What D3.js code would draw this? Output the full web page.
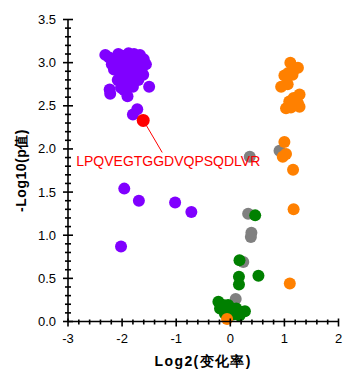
<!DOCTYPE html>
<html><head><meta charset="utf-8">
<script src="https://cdn.jsdelivr.net/npm/d3@7"></script>
<style>
html,body{margin:0;padding:0;background:#fff;}
svg{display:block;font-family:"Liberation Sans",Arial,sans-serif;}
</style></head>
<body>
<svg id="c" width="358" height="382"></svg>
<script>
// Data: [log2 fold change, -log10 p]
const grayPts = [[0.91,1.98],[0.36,1.91],[0.33,1.25],[0.39,1.03],[0.38,0.98],[0.24,0.69],[0.10,0.26]];
const greenPts = [[0.46,1.23],[0.17,0.71],[0.52,0.53],[0.16,0.52],[0.16,0.43],
  [-0.22,0.23],[-0.13,0.19],[-0.04,0.19],[0.11,0.15],[0.27,0.12],[-0.19,0.15],
  [-0.10,0.09],[0.05,0.08],[0.17,0.07],[0.00,0.16],[0.20,0.11]];
const purplePts = [[-2.31,3.09],[-2.07,3.10],[-1.88,3.11],[-1.67,3.09],[-1.97,3.05],[-1.76,3.07],
  [-2.13,3.03],[-2.03,3.02],[-1.82,3.00],[-1.56,2.98],[-2.19,2.98],[-1.70,2.96],[-1.91,2.92],
  [-1.76,2.88],[-1.61,2.86],[-1.97,2.84],[-1.82,2.84],[-1.85,2.78],[-1.91,2.76],[-1.50,2.72],
  [-2.23,2.69],[-2.02,2.71],[-2.22,2.64],[-1.90,2.61],[-1.72,2.46],[-1.80,2.40],
  [-2.15,2.92],[-2.06,2.90],[-1.95,2.99],[-1.86,2.93],[-1.72,3.02],[-1.64,2.93],
  [-2.08,2.80],[-1.96,2.68],[-1.80,2.72],[-1.70,2.80],[-2.24,3.06],[-1.60,3.04],
  [-1.88,3.05],[-2.00,3.08],[-1.78,3.10],[-1.68,2.86],[-1.88,2.85],[-2.10,2.97],
  [-1.96,1.54],[-1.69,1.40],[-1.02,1.38],[-0.72,1.27],[-2.02,0.87]];
const orangePts = [[1.11,3.00],[1.25,2.94],[1.00,2.85],[1.15,2.86],[0.94,2.72],[1.06,2.75],
  [1.28,2.63],[1.17,2.59],[1.25,2.53],[1.03,2.47],[1.28,2.49],[1.16,2.50],[1.09,2.55],
  [1.18,2.92],[1.07,2.88],[1.22,2.58],[1.12,2.48],
  [1.00,2.08],[0.97,1.91],[1.03,1.94],[1.16,1.76],[1.17,1.30],[1.10,0.44],[-0.06,0.03]];
const highlightPt = [-1.61,2.33];
const highlightLabel = "LPQVEGTGGDVQPSQDLVR";
const xTicks = [-3,-2,-1,0,1,2];
const yTicks = [0.0,0.5,1.0,1.5,2.0,2.5,3.0,3.5];
const xTitle = "Log2(变化率)";
const yTitle = "-Log10(p值)";

const svg = d3.select("#c");
const x = d3.scaleLinear().domain([-3,2]).range([68,338.5]);
const y = d3.scaleLinear().domain([0,3.5]).range([321.5,19.5]);

function dots(data, color){
  svg.append("g").selectAll("circle").data(data).join("circle")
    .attr("cx", d=>x(d[0])).attr("cy", d=>y(d[1])).attr("r", 6).attr("fill", color);
}
dots(grayPts, "#808080");
dots(greenPts, "#008000");
dots(purplePts, "#8000ff");
dots(orangePts, "#ff8000");

// highlight
const hx = x(highlightPt[0]), hy = y(highlightPt[1]);
svg.append("line").attr("x1", hx+2).attr("y1", hy+3).attr("x2", hx+19).attr("y2", hy+32)
  .attr("stroke", "#ff0000").attr("stroke-width", 1);
svg.append("circle").attr("cx", hx).attr("cy", hy).attr("r", 6.5).attr("fill", "#ff0000");
svg.append("text").attr("x", hx-67).attr("y", hy+46).attr("fill", "#ff0000")
  .attr("font-size", 14).text(highlightLabel);

// axes
const ax = svg.append("g").attr("stroke", "#000").attr("stroke-width", 1.6);
ax.append("line").attr("x1", x(-3)).attr("x2", x(2)).attr("y1", y(0)).attr("y2", y(0));
ax.append("line").attr("x1", x(-3)).attr("x2", x(-3)).attr("y1", y(0)).attr("y2", y(3.5));
const xMinor = d3.range(-3, 2.001, 0.2).map(v=>+v.toFixed(2));
xMinor.forEach(v=>{
  const major = Math.abs(v - Math.round(v)) < 1e-6;
  ax.append("line").attr("x1", x(v)).attr("x2", x(v))
    .attr("y1", y(0) - (major?3:2)).attr("y2", y(0) + (major?5:3));
});
const yMinor = d3.range(0, 3.5001, 0.1).map(v=>+v.toFixed(2));
yMinor.forEach(v=>{
  const major = Math.abs(v*2 - Math.round(v*2)) < 1e-6;
  ax.append("line").attr("y1", y(v)).attr("y2", y(v))
    .attr("x1", x(-3) - (major?5:3)).attr("x2", x(-3) + (major?5:3));
});

svg.append("g").selectAll("text").data(xTicks).join("text")
  .attr("x", d=>x(d)).attr("y", 343).attr("text-anchor","middle")
  .attr("font-size", 13).attr("fill","#000").text(d=>d);
svg.append("g").selectAll("text").data(yTicks).join("text")
  .attr("x", 56).attr("y", d=>y(d)+4.5).attr("text-anchor","end")
  .attr("font-size", 13).attr("fill","#000").text(d=>d.toFixed(1));

svg.append("text").attr("x", (x(-3)+x(2))/2).attr("y", 366).attr("text-anchor","middle")
  .attr("font-size", 14).attr("letter-spacing", 1.4).attr("font-weight","bold").text(xTitle);
svg.append("text").attr("transform", `translate(26,${(y(0)+y(3.5))/2}) rotate(-90)`)
  .attr("text-anchor","middle").attr("font-size", 14).attr("letter-spacing", 0.5)
  .attr("font-weight","bold").text(yTitle);
</script>
</body></html>
